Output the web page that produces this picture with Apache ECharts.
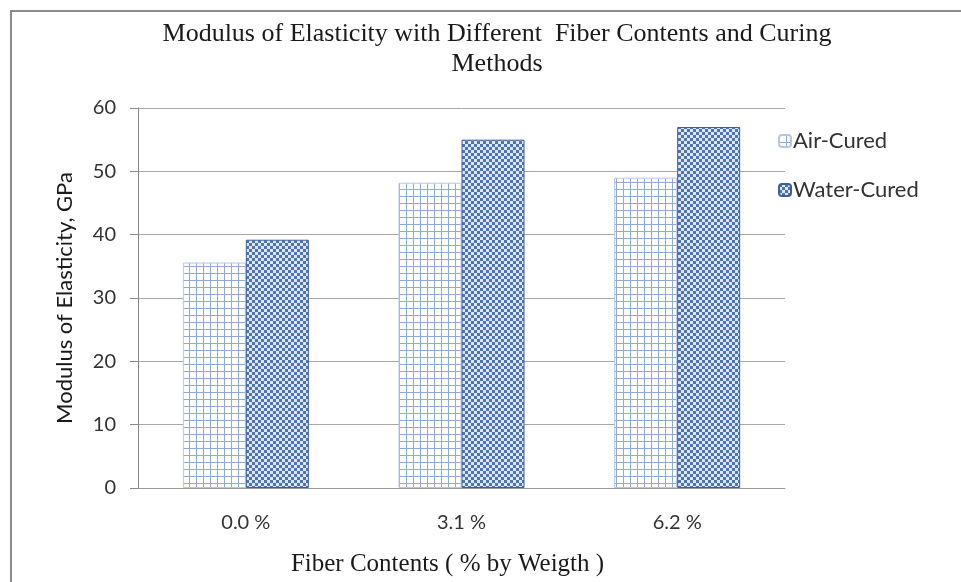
<!DOCTYPE html>
<html>
<head>
<meta charset="utf-8">
<script src="https://cdn.jsdelivr.net/npm/echarts@6/dist/echarts.min.js"></script>
<style>
  html, body { margin: 0; padding: 0; background: #fff; }
  #chart { width: 961px; height: 582px; }
</style>
</head>
<body>
<div id="chart"></div>
<script>
// data
const categories = ['0.0 %', '3.1 %', '6.2 %'];
const airCured = [35.6, 48.2, 49.0];
const waterCured = [39.2, 55.0, 57.0];
const yTicks = [0, 10, 20, 30, 40, 50, 60];

// small patterns like the Excel fills
function gridPattern() {
    const c = document.createElement('canvas');
    c.width = 7; c.height = 7;
    const ctx = c.getContext('2d');
    ctx.fillStyle = '#ffffff';
    ctx.fillRect(0, 0, 7, 7);
    ctx.fillStyle = '#8faad9';
    ctx.fillRect(0, 0, 1, 7);
    ctx.fillRect(0, 0, 7, 1);
    return c;
}
function checkerPattern() {
    const c = document.createElement('canvas');
    c.width = 6; c.height = 6;
    const ctx = c.getContext('2d');
    ctx.fillStyle = '#dfe8f7';
    ctx.fillRect(0, 0, 6, 6);
    ctx.fillStyle = '#4d74b8';
    ctx.fillRect(0, 0, 3, 3);
    ctx.fillRect(3, 3, 3, 3);
    return c;
}

const chart = echarts.init(document.getElementById('chart'));

const option = {
    animation: false,
    title: {
        text: 'Modulus of Elasticity with Different  Fiber Contents and Curing\nMethods',
        left: 492,
        textAlign: 'center',
        top: 14,
        textStyle: {
            fontFamily: 'Liberation Serif',
            fontWeight: 'normal',
            fontSize: 26,
            lineHeight: 30,
            color: '#1a1a1a'
        }
    },
    legend: {
        orient: 'vertical',
        left: 773,
        top: 125,
        itemWidth: 12,
        itemHeight: 12,
        itemGap: 27,
        data: ['Air-Cured', 'Water-Cured'],
        textStyle: { fontFamily: 'Lato', fontSize: 22, color: '#333', padding: [0, 0, 0, -3] }
    },
    graphic: [{
        type: 'rect',
        shape: { x: 11, y: 11, width: 1200, height: 1200 },
        style: { fill: 'none', stroke: '#8a8a8a', lineWidth: 2 },
        silent: true
    }],
    grid: { left: 138, right: 176, top: 108, bottom: 94 },
    xAxis: {
        type: 'category',
        data: categories,
        name: 'Fiber Contents ( % by Weigth )',
        nameLocation: 'middle',
        nameGap: 64,
        nameTextStyle: { fontFamily: 'Liberation Serif', fontSize: 25, color: '#1a1a1a', padding: [0, 28, 0, 0] },
        axisLine: { lineStyle: { color: '#9a9a9a', width: 1 } },
        axisTick: { show: false },
        axisLabel: { fontFamily: 'Lato', fontSize: 20, color: '#333', margin: 25 }
    },
    yAxis: {
        type: 'value',
        min: yTicks[0],
        max: yTicks[yTicks.length - 1],
        interval: 10,
        name: 'Modulus of Elasticity, GPa',
        nameLocation: 'middle',
        nameGap: 62,
        nameTextStyle: { fontFamily: 'Lato', fontSize: 22, color: '#1a1a1a' },
        axisLine: { show: true, lineStyle: { color: '#8a8a8a', width: 1 } },
        axisTick: { show: true, inside: false, length: 8, lineStyle: { color: '#8a8a8a' } },
        axisLabel: { fontFamily: 'Lato', fontSize: 20, color: '#333', margin: 22 },
        splitLine: { lineStyle: { color: '#a8a8a8', width: 1 } }
    },
    series: [
        {
            name: 'Air-Cured',
            type: 'bar',
            data: airCured,
            barWidth: 63,
            barGap: '0%',
            itemStyle: {
                color: { image: gridPattern(), repeat: 'repeat' },
                borderColor: '#b6c7e6',
                borderWidth: 1
            }
        },
        {
            name: 'Water-Cured',
            type: 'bar',
            data: waterCured,
            barWidth: 63,
            barGap: '0%',
            itemStyle: {
                color: { image: checkerPattern(), repeat: 'repeat' },
                borderColor: '#3c5f9e',
                borderWidth: 1
            }
        }
    ]
};

chart.setOption(option);
</script>
</body>
</html>
